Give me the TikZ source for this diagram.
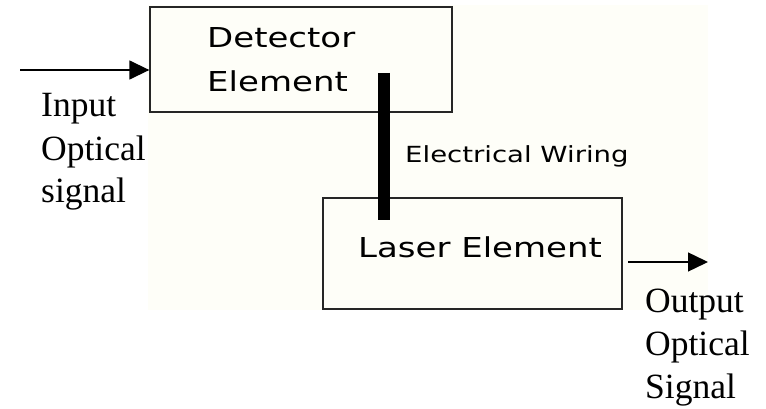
\documentclass[tikz,border=0pt]{standalone}
\usepackage{fontspec}
\setmainfont{Liberation Serif}
\newfontfamily\guifont[FakeStretch=1.24]{DejaVu Sans}
\usetikzlibrary{positioning, arrows.meta, calc}
\definecolor{cream}{RGB}{254,254,248}

\begin{document}
\begin{tikzpicture}[x=1pt, y=-1pt,
    box/.style={draw=black!85, line width=1.3pt, fill=cream, inner sep=0pt},
    boxtext/.style={anchor=base west, inner sep=0pt, align=left, font=\guifont\fontsize{27.4}{44}\selectfont},
    sigtext/.style={anchor=base west, inner sep=0pt, align=left, font=\fontsize{35.5}{43}\selectfont},
    sig/.style={line width=1.4pt, -{Triangle[length=20pt, width=19pt]}},
    wire/.style={line width=12pt}]
    \useasboundingbox (0,0) rectangle (766,409);
    \fill[cream] (148,5) rectangle (708,310);
    % the two elements
    \node[box, minimum width=302pt, minimum height=105pt] (det) at (301,59.5) {};
    \node[box, minimum width=299pt, minimum height=111pt] (laser) at (472.5,253.5) {};
    \node[boxtext] (detlbl) at (207,92) {Detector\\Element};
    \node[boxtext] (laserlbl) at (358,257) {Laser Element};
    % wiring between them
    \coordinate (wtop) at (384,73);
    \coordinate (wbot) at (384,220);
    \draw[wire] (wtop) -- (wbot);
    \node[boxtext, font=\guifont\fontsize{22.2}{26}\selectfont] (wirelbl) at (405,163) {Electrical Wiring};
    % optical signals
    \coordinate (insig) at (20,70);
    \draw[sig] (insig) -- (insig -| det.west);
    \node[sigtext] (inlbl) at (41,203) {Input\\Optical\\signal};
    \coordinate (outsig) at (628,262);
    \coordinate (outend) at (708,262);
    \draw[sig] (outsig) -- (outend);
    \node[sigtext] (outlbl) at (645,398) {Output\\Optical\\Signal};
\end{tikzpicture}
\end{document}
